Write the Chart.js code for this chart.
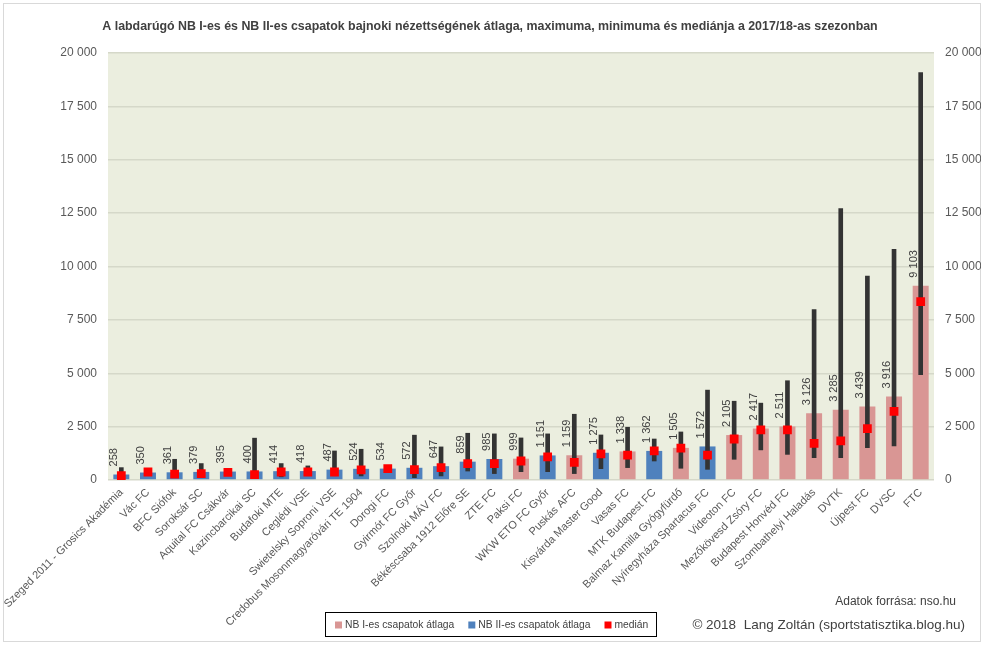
<!DOCTYPE html>
<html>
<head>
<meta charset="utf-8">
<script src="https://cdn.jsdelivr.net/npm/chart.js@4/dist/chart.umd.min.js"></script>
<style>
html,body{margin:0;padding:0;background:#fff;}
#wrap{width:987px;height:647px;position:relative;}
</style>
</head>
<body>
<div id="wrap"><canvas id="c" width="987" height="647"></canvas></div>
<script>
const categories = ["Szeged 2011 - Grosics Akadémia","Vác FC","BFC Siófok","Soroksár SC","Aquital FC Csákvár","Kazincbarcikai SC","Budafoki MTE","Ceglédi VSE","Swietelsky Soproni VSE","Credobus Mosonmagyaróvári TE 1904","Dorogi FC","Gyirmót FC Győr","Szolnoki MÁV FC","Békéscsaba 1912 Előre SE","ZTE FC","Paksi FC","WKW ETO FC Győr","Puskás AFC","Kisvárda Master Good","Vasas FC","MTK Budapest FC","Balmaz Kamilla Gyógyfürdő","Nyíregyháza Spartacus FC","Videoton FC","Mezőkövesd Zsóry FC","Budapest Honvéd FC","Szombathelyi Haladás","DVTK","Újpest FC","DVSC","FTC"];
const averages = [258,350,361,379,395,400,414,418,487,524,534,572,647,859,985,999,1151,1159,1275,1338,1362,1505,1572,2105,2417,2511,3126,3285,3439,3916,9103];
const division = [2,2,2,2,2,2,2,2,2,2,2,2,2,2,2,1,2,1,2,1,2,1,2,1,1,1,1,1,1,1,1];
const maxima = [580,450,970,770,450,1960,770,660,1360,1440,650,2100,1550,2190,2160,1970,2160,3080,2110,2470,1920,2250,4210,3690,3600,4650,7980,12710,9550,10800,19080];
const minima = [100,250,150,150,250,100,150,200,200,190,400,110,190,420,300,390,390,300,530,580,890,550,500,970,1410,1200,1050,1050,1520,1600,4930];
const medians = [200,375,280,300,360,250,375,375,375,470,530,485,580,770,770,890,1080,830,1220,1170,1360,1490,1160,1920,2350,2350,1720,1830,2410,3210,8360];
const yTicks = [0,2500,5000,7500,10000,12500,15000,17500,20000];
const titleText = "A labdarúgó NB I-es és NB II-es csapatok bajnoki nézettségének átlaga, maximuma, minimuma és mediánja a 2017/18-as szezonban";
const sourceText = "Adatok forrása: nso.hu";
const creditText = "© 2018  Lang Zoltán (sportstatisztika.blog.hu)";
const seriesNames = ["NB I-es csapatok átlaga","NB II-es csapatok átlaga","medián"];
const seriesColors = ['#d99694','#4f81bd','#ff0000'];

const FONT = "'Liberation Sans','Noto Sans',sans-serif";
const fmt = v => String(v).replace(/\B(?=(\d{3})+(?!\d))/g, ' ');
const nb1 = averages.map((v,i)=> division[i]===1 ? v : null);
const nb2 = averages.map((v,i)=> division[i]===2 ? v : null);
const whisk = minima.map((v,i)=> [v, maxima[i]]);

const decor = {
  id:'decor',
  beforeDraw(chart){
    const {ctx, chartArea:a} = chart;
    ctx.save();
    ctx.fillStyle='#fff';
    ctx.fillRect(0,0,chart.width,chart.height);
    ctx.fillStyle='#ebeedf';
    ctx.fillRect(a.left,a.top,a.right-a.left,a.bottom-a.top);
    ctx.strokeStyle='#d9d9d9';
    ctx.lineWidth=1;
    ctx.strokeRect(3.5,3.5,977,638);
    ctx.restore();
  },
  afterDatasetsDraw(chart){
    const {ctx} = chart;
    const m1 = chart.getDatasetMeta(0), m2 = chart.getDatasetMeta(1);
    ctx.save();
    ctx.font = "11px " + FONT;
    ctx.fillStyle = '#404040';
    ctx.textAlign='left';
    ctx.textBaseline='middle';
    averages.forEach((v,i)=>{
      const el = division[i]===1 ? m1.data[i] : m2.data[i];
      ctx.save();
      ctx.translate(el.x-7, el.y-8);
      ctx.rotate(-Math.PI/2);
      ctx.fillText(fmt(v),0,0);
      ctx.restore();
    });
    ctx.restore();
  },
  afterDraw(chart){
    const {ctx} = chart;
    ctx.save();
    ctx.fillStyle='#404040';
    ctx.font = "bold 12.4px " + FONT;
    ctx.textAlign='center';
    ctx.textBaseline='middle';
    ctx.fillText(titleText, 490, 27);
    ctx.textAlign='right';
    ctx.font = "12px " + FONT;
    ctx.fillText(sourceText, 956, 602);
    ctx.font = "13.5px " + FONT;
    ctx.fillText(creditText, 965, 625);
    // legend
    ctx.font = "10.3px " + FONT;
    ctx.textAlign='left';
    let x = 335;
    const cy = 625;
    seriesNames.forEach((t,i)=>{
      ctx.fillStyle = seriesColors[i];
      ctx.fillRect(x, cy-3.5, 7, 7);
      x += 10;
      ctx.fillStyle = '#404040';
      ctx.fillText(t, x, cy+0.5);
      x += ctx.measureText(t).width + 14;
    });
    const right = x - 14 + 8;
    ctx.strokeStyle='#000';
    ctx.lineWidth=1;
    ctx.strokeRect(325.5, 612.5, Math.round(right-325), 24);
    ctx.restore();
  }
};

new Chart(document.getElementById('c'), {
  data: {
    labels: categories,
    datasets: [
      {type:'bar', label: seriesNames[0], data: nb1, backgroundColor:seriesColors[0], grouped:false, barPercentage:0.6, categoryPercentage:1, order:3},
      {type:'bar', label: seriesNames[1], data: nb2, backgroundColor:seriesColors[1], grouped:false, barPercentage:0.6, categoryPercentage:1, order:3},
      {type:'line', label: seriesNames[2], data: medians, showLine:false, pointStyle:'rect', pointRadius:6.2, pointHoverRadius:6.2, backgroundColor:seriesColors[2], borderColor:seriesColors[2], borderWidth:0, order:1},
      {type:'bar', label: 'minmax', data: whisk, backgroundColor:'#333333', grouped:false, barThickness:4, order:2}
    ]
  },
  options: {
    responsive:false,
    animation:false,
    layout:{padding:{left:4, right:6, top:53, bottom:0}},
    plugins:{
      title:{display:false},
      tooltip:{enabled:false},
      legend:{display:false}
    },
    scales:{
      x:{
        grid:{display:false, drawTicks:false},
        border:{display:false},
        ticks:{autoSkip:false, minRotation:45, maxRotation:45, padding:6, font:{family:FONT, size:11}, color:'#595959'},
        afterFit(s){ s.height = 167; s.paddingLeft = 0; s.paddingRight = 0; }
      },
      y:{
        position:'left', min:0, max:20000,
        afterBuildTicks(s){ s.ticks = yTicks.map(v=>({value:v})); },
        grid:{color:'#d5d8c9', lineWidth:1.5, drawTicks:false},
        border:{display:false},
        ticks:{padding:11, font:{family:FONT, size:12}, color:'#595959', callback:v=>fmt(v)},
        afterFit(s){ s.width = 104; }
      },
      y2:{
        position:'right', min:0, max:20000,
        afterBuildTicks(s){ s.ticks = yTicks.map(v=>({value:v})); },
        grid:{display:false, drawTicks:false},
        border:{display:false},
        ticks:{padding:11, font:{family:FONT, size:12}, color:'#595959', callback:v=>fmt(v)},
        afterFit(s){ s.width = 47; }
      }
    }
  },
  plugins:[decor]
});
</script>
</body>
</html>
